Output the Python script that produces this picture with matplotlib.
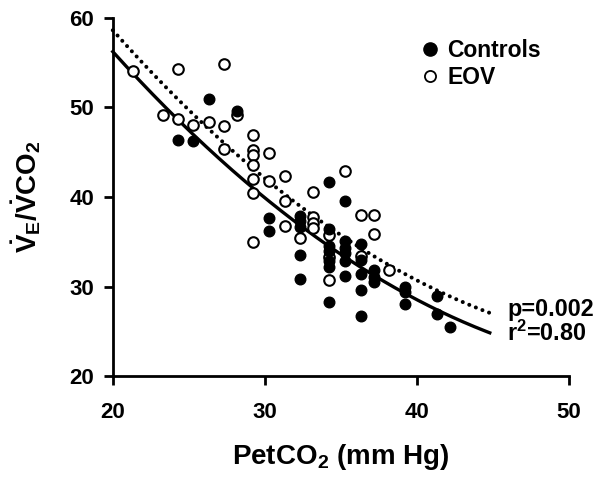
import numpy as np
import matplotlib
matplotlib.use("Agg")
import matplotlib.pyplot as plt
from matplotlib.lines import Line2D

plt.rcParams['font.family'] = ['Liberation Sans', 'DejaVu Sans']
plt.rcParams['font.weight'] = 'bold'
plt.rcParams['mathtext.fontset'] = 'custom'
plt.rcParams['mathtext.rm'] = 'Liberation Sans:bold'
plt.rcParams['mathtext.bf'] = 'Liberation Sans:bold'
plt.rcParams['mathtext.it'] = 'Liberation Sans:bold'

# Controls (filled circles)
ctrl_x = [24.3, 25.3, 26.3, 28.2,
          30.3, 30.3,
          32.3, 32.3, 32.3, 32.3, 32.3,
          34.2, 34.2, 34.2, 34.2, 34.2, 34.2, 34.2,
          35.3, 35.3, 35.3, 35.3, 35.3, 35.3,
          36.3, 36.3, 36.3, 36.3, 36.3,
          37.2, 37.2, 37.2,
          39.2, 39.2, 39.2,
          41.3, 41.3, 42.2]
ctrl_y = [46.4, 46.3, 50.9, 49.6,
          37.7, 36.2,
          37.9, 37.3, 36.6, 33.5, 30.8,
          41.7, 36.4, 34.5, 34.0, 32.8, 32.2, 28.3,
          39.5, 35.1, 34.3, 33.7, 32.9, 31.2,
          34.8, 33.0, 31.4, 29.6, 26.7,
          31.8, 31.1, 30.5,
          30.0, 29.4, 28.1,
          28.9, 26.9, 25.5]

# EOV (open circles)
eov_x = [21.3, 24.3, 27.3, 28.2, 23.3, 24.3, 25.3, 26.3, 27.3, 27.3,
         29.2, 29.2, 29.2, 30.3, 29.2, 29.2, 30.3, 31.3, 29.2, 29.2,
         35.3, 33.2, 31.3, 36.3, 37.2, 33.2, 33.2, 33.2, 31.3, 37.2, 32.3,
         34.2, 36.3, 34.2, 38.2, 34.2]
eov_y = [54.1, 54.3, 54.9, 49.2, 49.2, 48.7, 48.0, 48.4, 47.9, 45.4,
         46.9, 45.2, 44.7, 44.9, 43.6, 42.0, 41.8, 42.3, 40.4, 35.0,
         42.9, 40.6, 39.5, 38.0, 38.0, 37.8, 37.1, 36.5, 36.8, 35.9, 35.4,
         35.8, 33.4, 30.7, 31.9, 33.3]

# Fit curves
solid_x = [20.0, 25.3, 27.7, 29.2, 32.3, 41.5, 44.8]
solid_y = [56.0, 47.5, 43.4, 40.8, 36.5, 27.4, 24.8]
dot_x = [20.0, 24.2, 26.4, 28.8, 32.7, 34.5, 37.6, 41.5, 44.8]
dot_y = [58.5, 51.2, 47.5, 43.9, 38.5, 36.0, 33.0, 29.6, 27.0]

x_ticks = [20, 30, 40, 50]
y_ticks = [20, 30, 40, 50, 60]

fig = plt.figure(figsize=(6.0, 4.84), dpi=100)
ax = fig.add_axes([0.188, 0.223, 0.760, 0.740])

xx = np.linspace(20, 44.8, 200)
cs = np.polyfit(solid_x, solid_y, 2)
cd = np.polyfit(dot_x, dot_y, 2)
ax.plot(xx, np.polyval(cd, xx), color='black', lw=2.9, ls=(0, (0.01, 1.75)),
        dash_capstyle='round', zorder=2, clip_on=False)
ax.plot(xx, np.polyval(cs, xx), color='black', lw=2.4, zorder=2, clip_on=False)

ax.scatter(eov_x, eov_y, s=58, facecolors='white', edgecolors='black',
           linewidths=1.5, zorder=3, clip_on=False)
ax.scatter(ctrl_x, ctrl_y, s=58, facecolors='black', edgecolors='black',
           linewidths=1.0, zorder=4, clip_on=False)

ax.set_xlim(20, 50)
ax.set_ylim(20, 60)
ax.set_xticks(x_ticks)
ax.set_yticks(y_ticks)
ax.spines['top'].set_visible(False)
ax.spines['right'].set_visible(False)
for s in ['left', 'bottom']:
    ax.spines[s].set_linewidth(2)
ax.tick_params(axis='both', direction='out', length=6.5, width=2,
               labelsize=16)
ax.tick_params(axis='x', pad=12)
ax.tick_params(axis='y', pad=7)
for lab in ax.get_xticklabels() + ax.get_yticklabels():
    lab.set_fontweight('bold')

ax.set_xlabel(r'PetCO$_2$ (mm Hg)', fontsize=20, fontweight='bold', labelpad=14)
ax.set_ylabel(r'$\dot{\mathrm{V}}_\mathrm{E}/\dot{\mathrm{V}}\mathrm{CO}_2$',
              fontsize=20, labelpad=19)

handles = [Line2D([], [], marker='o', ls='none', markerfacecolor='black',
                  markeredgecolor='black', markersize=9.5),
           Line2D([], [], marker='o', ls='none', markerfacecolor='white',
                  markeredgecolor='black', markeredgewidth=1.3, markersize=8)]
ax.legend(handles, ['Controls', 'EOV'], loc='upper left',
          bbox_to_anchor=(0.645, 0.968), frameon=False,
          prop={'weight': 'bold', 'size': 16.5}, handletextpad=0.15,
          labelspacing=0.2, borderaxespad=0, handlelength=1.2)

ax.text(0.865, 0.185, 'p=0.002', transform=ax.transAxes, fontsize=16.8,
        fontweight='bold', va='center', ha='left')
ax.text(0.865, 0.12, r'r$^2$=0.80', transform=ax.transAxes, fontsize=16.8,
        fontweight='bold', va='center', ha='left')

fig.savefig('out.png', dpi=100)
